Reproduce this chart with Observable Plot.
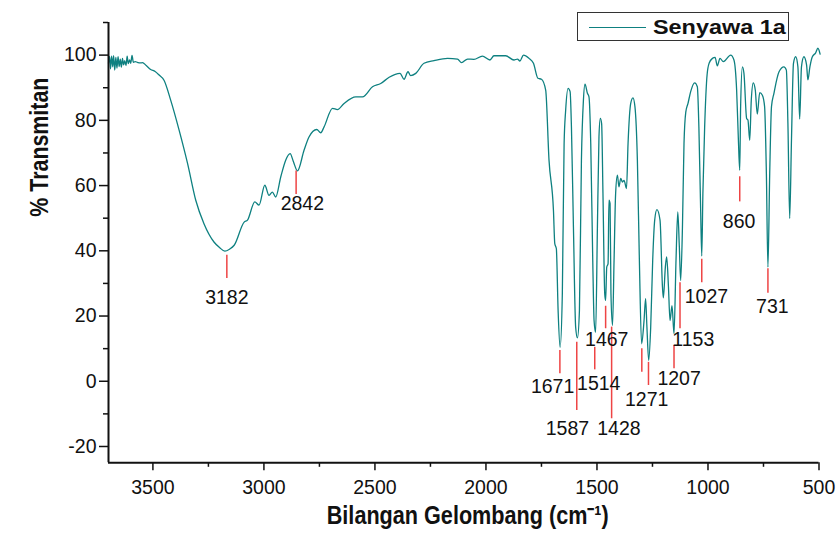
<!DOCTYPE html>
<html><head><meta charset="utf-8">
<script src="https://cdn.jsdelivr.net/npm/d3@7"></script>
<script src="https://cdn.jsdelivr.net/npm/@observablehq/plot@0.6"></script>
<style>
body{margin:0;background:#fff;}
#wrap{position:relative;width:837px;height:533px;overflow:hidden;background:#fff;}
#legend{position:absolute;left:577px;top:12px;width:212px;height:29px;box-sizing:border-box;border:1.3px solid #333;background:#fff;}
#legend .sw{position:absolute;left:11px;top:13.5px;width:57px;border-top:1.4px solid #0e8080;}
#legend .lb{position:absolute;left:75px;top:2.5px;font:bold 19.5px Arial,"Liberation Sans",sans-serif;line-height:22px;color:#111;transform-origin:left center;transform:scaleX(1.2);white-space:nowrap;}
</style></head><body><div id="wrap"></div>
<script>
const wavenumber = [3700,3695,3691,3686,3681,3677,3672,3667,3662,3657,3652,3647,3642,3637,3632,3627,3621,3616,3611,3605,3600,3594,3588,3580,3570,3558,3547,3530,3510,3490,3472,3450,3420,3382,3344,3307,3270,3225,3200,3176,3155,3134,3089,3074,3041,3022,2996,2977,2962,2947,2924,2902,2882,2867,2849,2819,2797,2762,2744,2729,2691,2669,2639,2586,2556,2511,2474,2436,2387,2369,2351,2339,2316,2279,2234,2173,2128,2110,2083,2054,2016,1982,1964,1911,1874,1858,1847,1831,1806,1786,1766,1750,1731,1716,1696,1690,1683,1675,1666,1656,1648,1641,1630,1621,1615,1606,1596,1588,1579,1570,1561,1554,1543,1536,1528,1519,1513,1506,1498,1491,1485,1479,1473,1465,1461,1456,1450,1446,1441,1437,1430,1423,1416,1408,1401,1393,1385,1378,1367,1360,1348,1338,1329,1318,1309,1299,1288,1281,1275,1267,1258,1249,1240,1230,1216,1205,1201,1192,1186,1178,1171,1162,1153,1144,1136,1129,1123,1115,1108,1100,1090,1078,1060,1048,1041,1033,1028,1023,1015,1004,995,980,968,958,946,931,898,883,871,863,857,853,845,838,826,820,812,805,796,787,778,767,755,745,737,730,722,714,703,680,658,647,640,632,624,615,605,595,587,579,568,556,550,541,530,515,505,495];
const transmittance = [97.5,99.6,95.8,99.7,96.4,99.8,95.4,99.3,96.0,99.5,96.5,98.8,96.3,99.0,97.0,98.3,96.8,99.7,97.4,98.5,97.5,99.9,97.8,98.0,97.8,97.6,97.7,96.8,95.6,95.0,93.9,92.3,86.2,77.0,66.8,55.5,48.3,42.7,41.0,39.9,40.5,41.7,48.8,49.4,55.0,54.0,60.1,57.0,58.0,56.5,62.7,67.8,69.8,67.3,64.5,70.9,74.9,77.2,76.2,78.0,83.7,83.3,85.2,87.2,87.2,90.3,91.3,93.2,94.4,92.6,94.9,93.7,94.4,97.5,98.3,99.0,98.8,97.7,98.8,98.7,99.7,98.5,99.8,99.8,98.5,98.8,98.2,100.0,99.0,97.5,92.9,92.6,89.3,67.8,52.4,42.2,40.7,21.7,10.4,26.8,72.9,83.1,89.8,88.8,78.0,47.3,16.6,13.3,21.7,67.8,86.2,91.1,88.3,87.2,72.9,37.1,18.6,15.0,47.3,74.9,80.6,79.0,57.5,26.8,24.8,35.0,36.1,55.5,54.5,26.8,17.1,37.1,57.5,63.2,59.6,62.2,61.1,61.6,59.1,72.9,85.2,86.9,84.2,67.8,37.1,11.5,18.6,25.3,16.6,6.4,16.6,37.1,49.4,52.6,49.4,28.9,25.6,35.0,38.1,28.9,18.6,23.2,14.6,37.1,51.9,41.2,30.9,47.3,72.9,82.5,85.2,88.8,91.5,90.3,78.0,52.4,38.4,57.5,78.0,94.0,97.5,99.0,99.3,96.7,99.0,98.0,100.0,98.5,89.3,73.9,64.7,84.2,96.4,94.4,80.6,80.1,73.9,86.2,91.5,89.3,81.9,88.5,87.7,84.2,63.7,35.0,63.7,84.2,88.3,94.9,96.4,95.4,79.0,49.9,73.9,97.5,99.5,96.4,80.4,96.4,99.5,97.0,92.4,96.4,99.5,100.7,102.1,100.3];

const xMajorTicks = [3500, 3000, 2500, 2000, 1500, 1000, 500];
const xMinorTicks = [3250, 2750, 2250, 1750, 1250, 750];
const yMajorTicks = [-20, 0, 20, 40, 60, 80, 100];
const yMinorTicks = [-10, 10, 30, 50, 70, 90, 110];

const peakLabels = ["3182", "2842", "1671", "1587", "1514", "1467", "1428", "", "1271", "1207", "1153", "1027", "860", "731"];
const peakX      = [3167, 2855, 1667, 1591, 1510, 1461, 1434, 1298, 1268, 1153, 1126, 1028, 857, 730];
const peakTop    = [38.6, 64.5, 9.4, 12.0, 10.4, 23.0, 16.6, 10.0, 5.8, 11.0, 30.2, 37.4, 62.7, 34.5];
const peakBottom = [31.5, 57.3, 2.3, -9.0, 3.5, 16.1, -11.5, 2.8, -1.3, 3.8, 16.1, 30.2, 55.0, 27.0];
const labelX     = [3167, 2827, 1700, 1633, 1492, 1456, 1401, null, 1276, 1130, 1066, 1007, 860, 710];
const labelY     = [25.7, 54.3, -1.8, -14.6, -0.7, 12.7, -14.6, null, -5.7, 0.7, 12.7, 25.8, 48.8, 22.7];

const seriesName = "Senyawa 1a";
const xTitle = "Bilangan Gelombang (cm\u207B\u00B9)";
const yTitle = "% Transmitan";

const spectrum = wavenumber.map((x, i) => ({x, y: transmittance[i]}));
const markers = peakX.map((x, i) => ({x, y1: peakBottom[i], y2: peakTop[i]}));
const labels = peakLabels.map((t, i) => ({t, x: labelX[i], y: labelY[i]})).filter(d => d.t);

const teal = "#0e8080";
const fmt = d => `${d}`;

const plot = Plot.plot({
  width: 837, height: 533,
  marginLeft: 108, marginRight: 18.5, marginTop: 22, marginBottom: 70.7,
  x: {domain: [3700, 500]},
  y: {domain: [-25, 110]},
  style: {fontFamily: "Arial, 'Liberation Sans', sans-serif", fontSize: "19.5px", color: "#111", background: "#fff", overflow: "visible"},
  marks: [
    Plot.line(spectrum, {x: "x", y: "y", stroke: teal, strokeWidth: 1.3, curve: "monotone-x"}),
    Plot.ruleX(markers, {x: "x", y1: "y1", y2: "y2", stroke: "#ee4444", strokeWidth: 1.5}),
    Plot.text(labels, {x: "x", y: "y", text: "t", fontSize: 19.5, fill: "#111"}),
    Plot.axisX(xMajorTicks, {tickSize: 8, tickPadding: 9, tickFormat: fmt, label: null, strokeWidth: 1.5, fontSize: 19.5}),
    Plot.axisX(xMinorTicks, {tickSize: 4.5, tickFormat: () => "", label: null, strokeWidth: 1.5}),
    Plot.axisY(yMajorTicks, {tickSize: 9, tickPadding: 3, tickFormat: fmt, label: null, strokeWidth: 1.5, fontSize: 19.5}),
    Plot.axisY(yMinorTicks, {tickSize: 5, tickFormat: () => "", label: null, strokeWidth: 1.5}),
    Plot.ruleX([3700], {strokeWidth: 2}),
    Plot.ruleY([-25], {strokeWidth: 2}),
    Plot.text([yTitle], {text: d => d, frameAnchor: "left", dx: -69, dy: -26, rotate: -90, fontSize: 25, fontWeight: "bold"}),
    Plot.text([xTitle], {text: d => d, frameAnchor: "bottom", dx: 4, dy: 61, fontSize: 25, fontWeight: "bold"})
  ]
});

d3.select(plot).selectAll("text").each(function() {
  if (this.textContent === yTitle) { this.setAttribute("textLength", 139); this.setAttribute("lengthAdjust", "spacingAndGlyphs"); }
  if (this.textContent === xTitle) { this.setAttribute("textLength", 282); this.setAttribute("lengthAdjust", "spacingAndGlyphs"); }
});

const wrap = document.getElementById("wrap");
wrap.appendChild(plot);
const legend = document.createElement("div");
legend.id = "legend";
legend.innerHTML = `<div class="sw"></div><span class="lb"></span>`;
legend.querySelector(".lb").textContent = seriesName;
wrap.appendChild(legend);
</script></body></html>
